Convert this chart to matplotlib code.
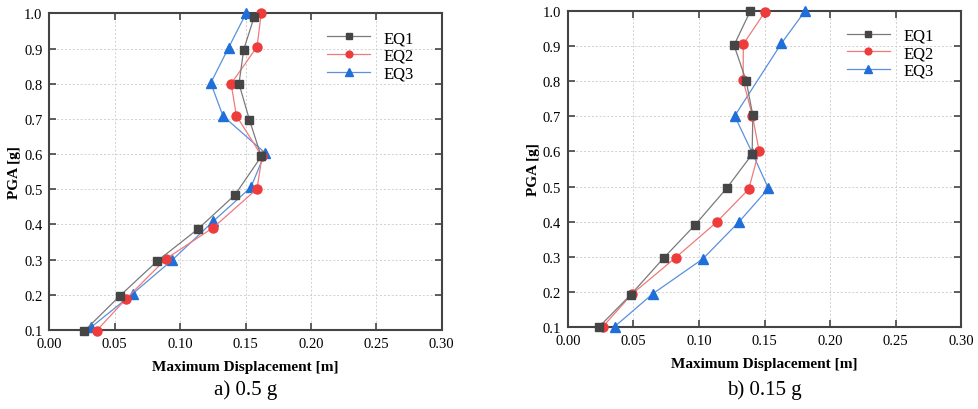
import matplotlib.pyplot as plt

plt.rcParams['font.family'] = ['Liberation Serif', 'DejaVu Serif']

# ---- data ----
# a) 0.5 g
a_eq1_x = [0.0265, 0.054, 0.0826, 0.1137, 0.142, 0.162, 0.153, 0.145, 0.1486, 0.1567]
a_eq1_y = [0.096, 0.197, 0.296, 0.387, 0.484, 0.593, 0.697, 0.800, 0.897, 0.991]
a_eq2_x = [0.0362, 0.0589, 0.0892, 0.1254, 0.1588, 0.1626, 0.143, 0.139, 0.1588, 0.162]
a_eq2_y = [0.098, 0.189, 0.302, 0.391, 0.501, 0.593, 0.709, 0.800, 0.905, 1.000]
a_eq3_x = [0.0321, 0.0638, 0.0938, 0.1254, 0.154, 0.165, 0.1328, 0.1234, 0.137, 0.1504]
a_eq3_y = [0.108, 0.203, 0.298, 0.409, 0.505, 0.603, 0.708, 0.802, 0.902, 1.000]

# b) 0.15 g
b_eq1_x = [0.0234, 0.048, 0.073, 0.0967, 0.121, 0.1405, 0.141, 0.136, 0.1267, 0.139]
b_eq1_y = [0.100, 0.193, 0.297, 0.390, 0.495, 0.592, 0.703, 0.800, 0.902, 0.998]
b_eq2_x = [0.0267, 0.049, 0.0821, 0.1134, 0.1379, 0.1458, 0.1407, 0.1336, 0.1338, 0.150]
b_eq2_y = [0.102, 0.195, 0.298, 0.399, 0.493, 0.602, 0.702, 0.802, 0.905, 0.995]
b_eq3_x = [0.0356, 0.0649, 0.103, 0.1305, 0.1529, 0.1407, 0.1272, 0.1628, 0.1806]
b_eq3_y = [0.102, 0.196, 0.295, 0.400, 0.495, 0.595, 0.701, 0.907, 0.998]

labels = ["EQ1", "EQ2", "EQ3"]
captions = ["a) 0.5 g", "b) 0.15 g"]

styles = [
    dict(color="#7a7a7a", marker="s", mfc="#454545", mec="#454545", ms=5.5, zorder=5),
    dict(color="#f07a7a", marker="o", mfc="#ee3b3b", mec="#ee3b3b", ms=6.5, zorder=4),
    dict(color="#5a90dd", marker="^", mfc="#1e6fd9", mec="#1e6fd9", ms=7, zorder=3),
]

fig = plt.figure(figsize=(9.79, 4.10), dpi=100)
ax1 = fig.add_axes([0.0504, 0.193, 0.4008, 0.772])
ax2 = fig.add_axes([0.580, 0.199, 0.402, 0.7725])

panels = [
    (ax1, [(a_eq1_x, a_eq1_y), (a_eq2_x, a_eq2_y), (a_eq3_x, a_eq3_y)], -0.186),
    (ax2, [(b_eq1_x, b_eq1_y), (b_eq2_x, b_eq2_y), (b_eq3_x, b_eq3_y)], -0.195),
]

for i, (ax, series, cap_y) in enumerate(panels):
    for (x, y), lab, st in zip(series, labels, styles):
        ax.plot(x, y, lw=0.9, label=lab, clip_on=False, **st)

    ax.set_xlim(0, 0.30)
    ax.set_ylim(0.1, 1.0)
    ax.set_xticks([0.00, 0.05, 0.10, 0.15, 0.20, 0.25, 0.30])
    ax.set_yticks([0.1, 0.2, 0.3, 0.4, 0.5, 0.6, 0.7, 0.8, 0.9, 1.0])
    ax.xaxis.set_major_formatter(plt.FormatStrFormatter('%.2f'))
    ax.yaxis.set_major_formatter(plt.FormatStrFormatter('%.1f'))
    ax.tick_params(direction='in', top=True, right=True, length=5, width=1.2,
                   color="#444444", labelsize=10.5, pad=5)
    ax.grid(True, ls=(0, (2, 2)), color="#d0d0d0", lw=0.7)
    for s in ax.spines.values():
        s.set_color("#444444")
        s.set_linewidth(1.5)

    ax.set_xlabel("Maximum Displacement [m]", fontsize=11, fontweight='bold', labelpad=7)
    ax.set_ylabel("PGA [g]", fontsize=11, fontweight='bold', labelpad=2)
    ax.text(0.5, cap_y, captions[i], transform=ax.transAxes, ha='center', va='center',
            fontsize=15)

    ax.legend(loc='upper right', bbox_to_anchor=(0.972, 1.0), frameon=False, fontsize=12,
              handlelength=2.6, borderaxespad=0.6, labelspacing=0.1, handletextpad=0.8,
              markerscale=0.75)

fig.savefig("out.png", dpi=100)
